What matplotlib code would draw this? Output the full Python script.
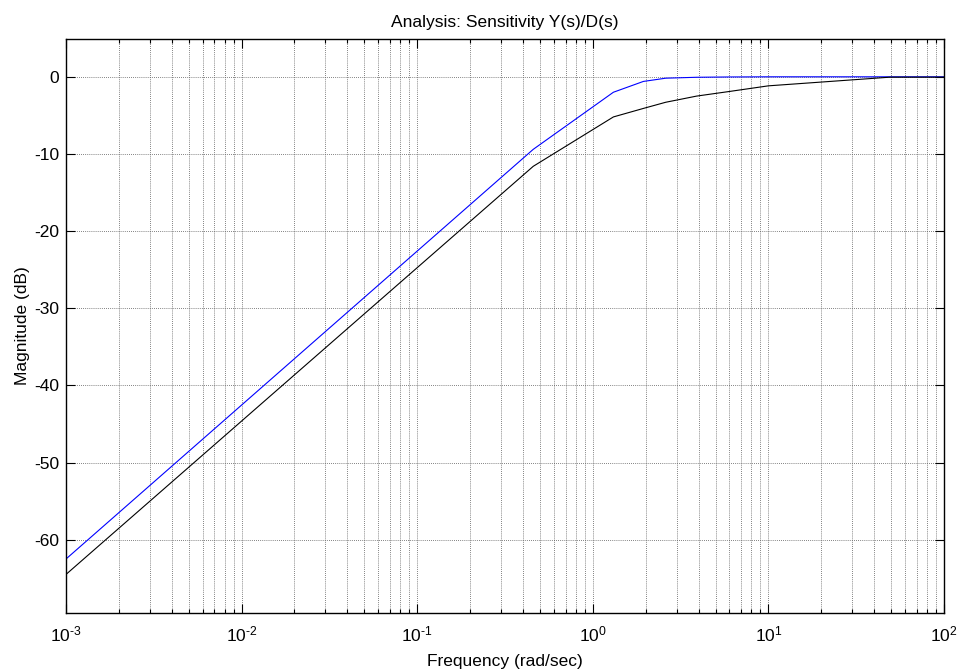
import numpy as np
from matplotlib import pyplot as plt
from matplotlib.ticker import LogLocator, NullFormatter, MultipleLocator, FuncFormatter

plt.rcParams['font.family'] = ['Liberation Sans', 'DejaVu Sans']
plt.rcParams['mathtext.fontset'] = 'custom'
plt.rcParams['mathtext.rm'] = 'Liberation Sans'
plt.rcParams['mathtext.it'] = 'Liberation Sans'
plt.rcParams['mathtext.default'] = 'regular'
plt.rcParams['axes.unicode_minus'] = False

# Frequency grid (rad/sec) and magnitude responses (dB)
freq = [0.001, 0.458, 1.31, 1.94, 2.6, 3.9, 6.0, 10.0, 49.0, 100.0]
mag_blue = [-62.5, -9.4, -2.0, -0.6, -0.18, -0.06, -0.02, 0.0, 0.0, 0.0]
mag_black = [-64.5, -11.6, -5.2, -4.1, -3.3, -2.5, -1.9, -1.17, -0.05, -0.05]


def decade_label(x, pos):
    e = int(round(np.log10(x)))
    if e < 0:
        return r'$10^{\text{-}%d}$' % (-e)
    return r'$10^{%d}$' % e


fig = plt.figure(figsize=(9.6, 6.69), dpi=100)
ax = fig.add_axes([0.06875, 0.0837, 0.9146, 0.858])

ax.semilogx(freq, mag_blue, color=(0, 0, 1), lw=0.8)
ax.semilogx(freq, mag_black, color='black', lw=0.8)

ax.set_xlim(1e-3, 1e2)
ax.set_ylim(-69.5, 4.9)

ax.xaxis.set_major_locator(LogLocator(base=10, numticks=10))
ax.xaxis.set_major_formatter(FuncFormatter(decade_label))
ax.xaxis.set_minor_locator(LogLocator(base=10, subs=np.arange(2, 10), numticks=20))
ax.xaxis.set_minor_formatter(NullFormatter())
ax.yaxis.set_major_locator(MultipleLocator(10))

ax.grid(True, which='both', axis='x', color='0.35', linestyle=(0, (1, 1.5)), lw=0.6)
ax.grid(True, which='major', axis='y', color='0.35', linestyle=(0, (1, 1.5)), lw=0.6)

ax.tick_params(which='major', direction='in', length=6.5, width=0.8,
               top=True, right=True, labelsize=12.5, pad=5)
ax.tick_params(axis='x', which='major', pad=8)
ax.tick_params(which='minor', direction='in', length=3, width=0.8,
               top=True, right=True)
for s in ax.spines.values():
    s.set_linewidth(1.0)

ax.set_title('Analysis: Sensitivity Y(s)/D(s)', fontsize=12.5, pad=9)
ax.set_xlabel('Frequency (rad/sec)', fontsize=12.5, labelpad=7)
ax.set_ylabel('Magnitude (dB)', fontsize=12.5, labelpad=3)

plt.savefig('out.png', dpi=100)
